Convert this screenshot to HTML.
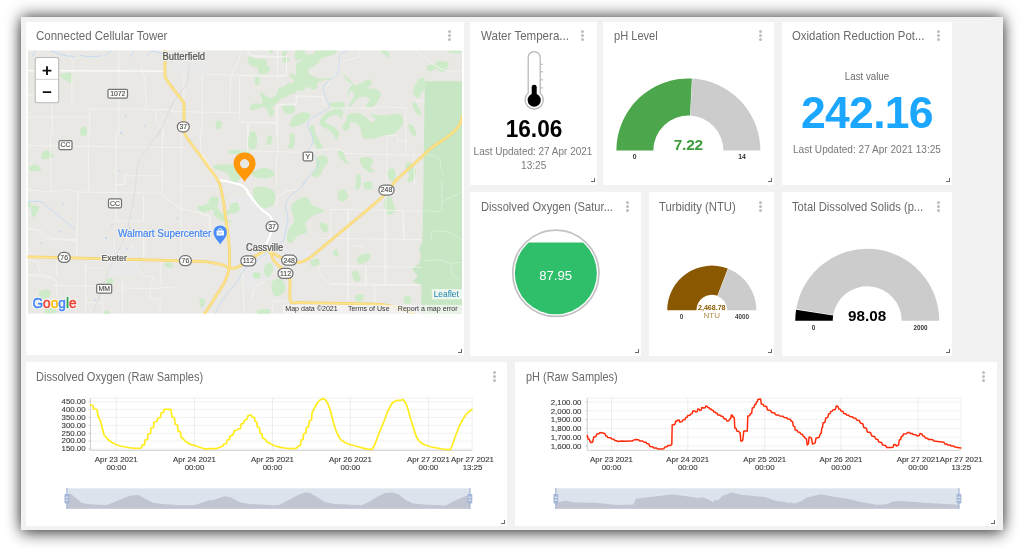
<!DOCTYPE html>
<html lang="en">
<head>
<meta charset="utf-8">
<title>Water Quality Dashboard</title>
<style>
*{box-sizing:border-box}
html,body{margin:0;padding:0}
body{width:1024px;height:549px;background:#fff;position:relative;overflow:hidden;font-family:"Liberation Sans",Arial,sans-serif;}
#shadow{position:absolute;left:0;top:0;width:1024px;height:549px;}
#frame{position:absolute;left:21.1px;top:17px;width:981.8px;height:512.9px;background:#f2f2f2;}
.card{position:absolute;background:#fff;}
.title{position:absolute;left:10.9px;top:7.7px;font-size:12.6px;line-height:14px;color:#6a6a6a;white-space:nowrap;margin:0;font-weight:400;transform-origin:0 50%;}
.kebab{position:absolute;top:8.5px;width:3px;height:11px;}
.kebab i{display:block;width:3px;height:3px;border-radius:50%;background:#bdbdbd;margin:0 0 1px 0}
.grip{position:absolute;right:2.1px;bottom:2.4px;width:4px;height:4px;border-right:1.3px solid #6a6a6a;border-bottom:1.3px solid #6a6a6a;}
svg{position:absolute;left:0;top:0;overflow:visible}

</style>
</head>
<body>
<svg id="shadow" width="1024" height="549" viewBox="0 0 1024 549" aria-hidden="true">
<defs><filter id="shblur" x="-10%" y="-10%" width="120%" height="120%"><feGaussianBlur stdDeviation="7.2 8.5"/></filter></defs>
<rect x="21.1" y="18" width="981.8" height="513" fill="#000" fill-opacity="0.95" filter="url(#shblur)"/>
</svg>
<div id="frame"></div>
<section class="card" id="map" style="left:26.0px;top:21.5px;width:437.60px;height:333.50px">
<h3 class="title" style="left:10.30px;transform:scaleX(0.9129)">Connected Cellular Tower</h3>
<span class="kebab" style="left:422.40px;top:8.50px"><i></i><i></i><i></i></span>
<svg width="437.60" height="333.50" viewBox="26.0 21.5 437.60 333.50">
<defs><clipPath id="mapclip"><rect x="27.6" y="49.8" width="434.4" height="263.4"/></clipPath></defs>
<g clip-path="url(#mapclip)">
<rect x="27.6" y="49.8" width="434.4" height="263.4" fill="#e9e8e4"/>
<path d="M232.7,195.1C236.9,192.2 249.4,197.2 257.8,200.1C266.2,203.0 278.3,207.7 283.0,212.7C287.6,217.7 285.5,224.8 285.5,230.3C285.5,235.7 279.6,242.4 283.0,245.4C286.3,248.3 301.0,246.2 305.6,247.9C310.2,249.5 312.3,252.9 310.6,255.4C308.9,257.9 300.1,261.7 295.5,263.0C290.9,264.2 287.1,260.9 283.0,263.0C278.8,265.1 274.2,272.6 270.4,275.5C266.6,278.5 263.7,278.0 260.3,280.6C257.0,283.1 253.0,289.8 250.3,290.6C247.6,291.4 245.2,289.4 244.0,285.6C242.7,281.8 245.0,270.9 242.7,268.0C240.4,265.1 232.3,272.2 230.2,268.0C228.1,263.8 229.7,251.2 230.2,242.8C230.6,234.5 232.3,225.7 232.7,217.7C233.1,209.7 228.5,198.0 232.7,195.1Z" fill="#e9e9ea"/>
<path d="M173.5,60.0L206.0,60.0L206.0,73.0L173.5,73.0Z" fill="#e9e9ea"/>
<path d="M106.0,247.3L138.8,247.3L138.8,275.2L109.2,275.2L106.8,261.2L86.3,260.4L86.3,254.7L106.0,254.2Z" fill="#e9e9ea"/>
<path d="M424.8,80.7L463.0,80.7L462.0,180.0L462.0,313.2L421.0,313.2L421.8,285.6L413.0,280.6L418.0,275.5L411.7,268.0L419.2,263.0L421.0,255.4L419.2,247.9L422.5,241.6L423.0,210.2L423.5,180.0Z" fill="#c7e6c3"/>
<g fill="#cdebc9">
<path d="M282.7,105.8C283.6,105.0 287.2,104.2 289.0,104.3C290.8,104.4 294.0,105.2 294.8,106.3C295.6,107.5 295.1,110.8 294.0,111.9C293.0,112.9 289.4,113.6 287.8,113.4C286.1,113.1 284.0,111.2 283.2,110.1C282.5,109.0 281.9,106.7 282.7,105.8Z"/>
<path d="M294.0,115.1C295.7,114.1 300.4,112.1 302.8,111.9C305.3,111.7 309.9,112.4 310.4,113.9C310.8,115.3 307.4,119.9 305.9,121.4C304.4,122.9 302.1,123.2 300.3,123.9C298.6,124.7 295.6,126.4 294.0,126.4C292.5,126.5 290.2,125.6 289.8,124.4C289.4,123.3 290.9,120.3 291.5,118.9C292.2,117.5 292.4,116.2 294.0,115.1Z"/>
<path d="M343.1,73.7C343.6,73.7 348.7,78.2 350.6,79.9C352.5,81.6 353.8,84.8 355.6,85.0C357.5,85.2 361.1,82.1 363.2,81.2C365.3,80.3 368.1,78.5 369.5,78.7C370.8,78.9 372.2,81.1 372.0,82.5C371.8,83.8 367.5,86.5 368.2,87.5C369.0,88.4 375.1,87.8 377.0,88.7C378.9,89.7 380.6,92.1 380.8,93.8C381.0,95.5 379.4,98.2 378.3,100.0C377.1,101.9 375.1,105.5 373.2,106.3C371.3,107.2 366.3,106.8 365.7,105.8C365.1,104.9 369.5,101.5 369.5,100.0C369.5,98.6 367.4,96.7 365.7,96.3C364.0,95.9 360.0,96.4 358.1,97.5C356.3,98.7 354.6,102.5 353.1,103.8C351.6,105.1 348.3,106.9 348.1,106.3C347.9,105.8 350.9,101.9 351.9,100.0C352.8,98.2 354.6,95.3 354.4,93.8C354.2,92.3 351.6,89.4 350.6,90.0C349.7,90.6 348.4,97.7 348.1,97.5C347.8,97.3 348.0,90.8 348.6,88.7C349.2,86.7 352.1,85.0 351.9,83.7C351.6,82.4 348.2,81.4 346.8,79.9C345.5,78.4 342.5,73.7 343.1,73.7Z"/>
<path d="M330.5,102.6C332.2,101.7 341.0,101.1 343.1,101.8C345.1,102.6 344.9,106.3 344.3,107.6C343.8,108.8 341.2,110.1 339.3,110.1C337.4,110.1 333.1,108.7 331.8,107.6C330.4,106.5 328.8,103.4 330.5,102.6Z"/>
<path d="M320.4,118.9C321.6,116.8 325.3,112.9 328.0,111.4C330.6,109.9 335.8,108.8 338.0,108.8C340.3,108.8 342.7,110.0 343.1,111.4C343.4,112.7 341.5,117.3 340.6,117.6C339.6,118.0 338.5,114.1 336.8,113.9C335.1,113.7 330.9,115.3 329.2,116.4C327.5,117.5 324.7,119.9 325.5,121.4C326.2,122.9 332.2,124.7 334.3,126.4C336.3,128.1 338.9,130.8 339.3,132.7C339.7,134.6 337.7,138.8 336.8,139.0C335.8,139.2 334.3,135.5 333.0,134.0C331.7,132.5 329.9,130.3 328.0,129.0C326.1,127.6 321.6,126.7 320.4,125.2C319.3,123.7 319.3,121.0 320.4,118.9Z"/>
<path d="M345.6,121.4C346.5,119.5 346.2,115.2 348.1,113.9C350.0,112.6 355.5,112.2 358.1,112.6C360.8,113.0 363.8,115.1 365.7,116.4C367.6,117.7 369.2,121.0 370.7,121.4C372.2,121.8 375.7,120.0 375.7,118.9C375.7,117.8 369.6,114.4 370.7,113.9C371.9,113.3 379.9,115.2 383.3,115.1C386.7,115.1 390.7,113.6 393.3,113.4C396.0,113.2 399.4,112.7 400.9,113.9C402.4,115.1 403.6,119.3 403.4,121.4C403.2,123.5 400.9,126.0 399.6,127.7C398.3,129.4 397.1,131.6 394.6,132.7C392.1,133.9 386.5,134.5 383.3,135.2C380.1,136.0 376.2,137.4 373.2,137.8C370.2,138.1 365.1,139.1 363.2,137.8C361.3,136.4 361.4,131.0 360.7,129.0C359.9,126.9 359.7,125.1 358.1,123.9C356.6,122.8 351.9,120.8 350.6,121.4C349.3,122.0 350.1,126.4 349.4,127.7C348.6,129.0 346.7,130.4 345.6,130.2C344.4,130.0 341.8,127.8 341.8,126.4C341.8,125.1 344.6,123.3 345.6,121.4Z"/>
<path d="M309.9,125.9C310.3,124.6 313.3,124.2 314.2,125.2C315.0,126.2 314.7,130.5 315.4,132.7C316.2,135.0 318.1,138.2 319.2,140.3C320.3,142.3 323.1,145.2 323.0,146.6C322.8,147.9 319.2,149.6 317.9,149.1C316.6,148.5 315.1,145.0 314.2,142.8C313.2,140.5 312.3,136.5 311.6,134.0C311.0,131.5 309.5,127.3 309.9,125.9Z"/>
<path d="M249.6,132.7C250.5,130.8 253.4,130.4 254.6,131.0C255.7,131.5 256.8,134.2 257.1,136.5C257.4,138.8 257.2,144.7 256.3,146.6C255.5,148.4 252.6,149.4 251.3,149.1C250.1,148.7 248.3,146.5 248.0,144.0C247.8,141.6 248.6,134.7 249.6,132.7Z"/>
<path d="M267.7,135.2C268.4,134.1 271.7,134.7 272.2,136.0C272.6,137.3 271.4,142.9 270.7,144.0C269.9,145.2 267.6,144.9 267.1,143.5C266.7,142.2 266.9,136.4 267.7,135.2Z"/>
<path d="M289.0,134.0C289.6,132.8 293.2,132.3 294.0,133.5C294.9,134.6 295.0,139.4 294.8,141.5C294.6,143.7 293.9,147.1 292.8,147.8C291.7,148.6 287.6,147.5 287.3,146.6C286.9,145.6 290.0,143.4 290.3,141.5C290.5,139.6 288.5,135.2 289.0,134.0Z"/>
<path d="M413.5,88.7C414.3,86.7 416.8,80.3 418.5,78.7C420.2,77.1 423.8,76.7 424.8,78.2C425.7,79.7 425.3,86.6 424.8,88.7C424.2,90.9 421.7,91.2 421.0,92.5C420.2,93.8 420.5,97.0 419.7,97.5C419.0,98.1 417.0,97.0 416.0,96.3C414.9,95.5 413.3,93.6 413.0,92.5C412.6,91.4 412.6,90.8 413.5,88.7Z"/>
<path d="M412.2,101.8C412.6,101.2 414.8,102.3 416.0,103.3C417.1,104.4 419.0,107.1 419.7,108.8C420.5,110.6 421.4,114.4 421.0,115.1C420.6,115.9 418.4,115.0 417.2,113.9C416.1,112.7 414.2,109.4 413.5,107.6C412.7,105.8 411.8,102.4 412.2,101.8Z"/>
<path d="M408.4,123.9C408.7,122.8 411.8,123.9 413.0,125.2C414.1,126.5 415.7,131.1 416.0,132.7C416.2,134.3 415.5,136.0 414.7,136.0C414.0,136.0 411.9,134.5 410.9,132.7C410.0,130.9 408.1,125.1 408.4,123.9Z"/>
<path d="M427.3,64.9C428.4,64.1 433.1,64.4 434.8,63.6C436.5,62.8 437.3,60.2 438.6,59.8C439.9,59.4 442.1,60.7 443.6,61.1C445.1,61.5 448.3,61.0 448.6,62.3C449.0,63.7 447.3,68.6 446.1,69.9C445.0,71.2 442.6,71.3 441.1,71.1C439.6,70.9 437.6,68.6 436.1,68.6C434.6,68.6 432.4,71.1 431.1,71.1C429.7,71.1 427.8,69.6 427.3,68.6C426.7,67.7 426.1,65.6 427.3,64.9Z"/>
<path d="M446.1,50.5C447.3,50.1 459.0,50.3 461.2,50.5C463.5,50.8 462.3,51.9 461.2,52.3C460.1,52.7 455.9,53.3 453.7,53.0C451.4,52.8 445.0,50.9 446.1,50.5Z"/>
<path d="M380.8,50.5C381.0,49.9 385.6,49.5 387.1,50.5C388.5,51.5 390.5,56.7 390.3,57.3C390.1,58.0 387.2,55.8 385.8,54.8C384.4,53.8 380.6,51.2 380.8,50.5Z"/>
<path d="M338.0,150.3C338.6,149.6 341.9,150.4 343.1,151.6C344.2,152.7 344.6,156.1 345.6,157.9C346.5,159.7 349.5,163.1 349.4,163.6C349.2,164.2 345.8,162.7 344.3,161.6C342.8,160.6 340.2,158.3 339.3,156.6C338.4,154.9 337.5,151.1 338.0,150.3Z"/>
<path d="M360.2,157.9C361.3,156.9 366.2,156.2 368.2,156.6C370.2,157.0 372.9,158.9 373.2,160.4C373.6,161.9 370.5,165.2 370.7,166.7C370.9,168.2 374.7,169.7 374.5,170.4C374.3,171.2 371.0,172.1 369.5,171.7C368.0,171.3 365.8,169.2 364.4,167.9C363.1,166.6 361.3,164.4 360.7,162.9C360.0,161.4 359.0,158.8 360.2,157.9Z"/>
<path d="M317.4,156.6C318.9,154.7 323.9,154.6 325.5,155.4C327.1,156.1 328.2,159.9 328.0,161.6C327.8,163.3 325.3,164.8 324.2,166.7C323.1,168.5 321.8,172.7 320.4,174.2C319.1,175.7 316.7,176.7 315.4,176.7C314.1,176.7 311.6,175.5 311.6,174.2C311.6,172.9 314.5,170.6 315.4,167.9C316.3,165.3 315.9,158.5 317.4,156.6Z"/>
<path d="M388.3,169.2C389.3,168.2 392.2,167.2 393.3,167.9C394.5,168.7 395.8,172.3 395.9,174.2C395.9,176.1 394.8,179.7 393.8,180.5C392.9,181.2 390.6,180.2 389.6,179.2C388.6,178.3 387.2,175.7 387.1,174.2C386.9,172.7 387.4,170.1 388.3,169.2Z"/>
<path d="M405.9,162.9C406.7,161.8 409.4,161.2 410.9,162.1C412.4,163.1 415.4,167.0 416.0,169.2C416.5,171.4 415.5,174.8 414.7,176.7C414.0,178.6 412.1,181.2 410.9,181.7C409.8,182.3 407.5,181.8 407.2,180.5C406.9,179.2 409.1,174.6 408.9,172.9C408.7,171.3 406.4,170.7 405.9,169.2C405.5,167.7 405.2,163.9 405.9,162.9Z"/>
<path d="M257.6,169.2C259.7,168.3 262.9,167.0 265.1,167.2C267.4,167.4 271.4,169.2 272.7,170.4C274.0,171.7 275.1,174.3 273.9,175.5C272.8,176.6 268.0,177.8 265.1,178.0C262.3,178.2 257.2,177.5 255.1,176.7C253.0,176.0 250.9,174.1 251.3,172.9C251.7,171.8 255.5,170.0 257.6,169.2Z"/>
<path d="M356.9,174.2C357.6,172.9 360.2,174.0 360.7,175.5C361.2,176.9 360.8,182.7 360.2,184.0C359.5,185.3 356.6,185.5 356.1,184.0C355.6,182.5 356.2,175.5 356.9,174.2Z"/>
<path d="M295.6,50.2C297.0,48.7 303.2,49.7 304.7,50.2C306.2,50.7 303.9,53.1 305.4,53.7C306.8,54.2 313.0,54.4 314.6,53.9C316.1,53.4 312.1,50.7 315.4,50.2C318.7,49.6 334.1,49.5 336.7,50.2C339.2,50.8 333.9,53.7 332.3,54.6C330.6,55.5 327.5,55.5 325.7,56.2C323.9,56.9 321.2,58.0 320.2,58.9C319.3,59.8 320.0,61.4 319.2,62.2C318.3,63.0 315.8,63.7 314.8,64.4C313.8,65.1 313.5,66.7 312.6,67.1C311.7,67.6 309.3,66.9 308.8,67.7C308.2,68.5 308.3,71.6 308.8,72.6C309.2,73.7 310.3,74.1 311.5,74.8C312.7,75.5 315.2,77.0 317.0,77.5C318.8,78.0 321.2,78.1 323.5,78.1C325.8,78.1 331.3,77.4 332.3,77.5C333.3,77.7 331.7,78.8 330.1,79.2C328.5,79.6 323.3,79.7 321.3,80.3C319.4,80.9 317.5,82.1 317.0,83.0C316.4,83.9 317.8,85.4 317.5,86.3C317.2,87.2 315.7,88.7 314.8,89.0C313.9,89.4 312.1,88.9 311.5,88.5C310.8,88.1 311.4,86.3 310.4,86.3C309.4,86.3 306.1,87.8 304.9,88.5C303.8,89.1 303.7,90.4 302.7,90.7C301.8,90.9 299.7,89.8 298.4,90.1C297.1,90.5 295.3,92.3 294.0,92.9C292.7,93.4 290.6,93.5 289.6,94.0C288.6,94.4 288.4,95.6 287.4,96.1C286.4,96.6 284.2,96.7 283.0,97.2C281.9,97.7 280.6,98.6 279.8,99.4C278.9,100.2 278.6,101.7 277.6,102.7C276.5,103.7 273.2,104.8 272.7,106.3C272.1,107.8 274.2,111.0 273.9,112.6C273.5,114.1 271.2,116.6 270.2,116.4C269.3,116.1 268.7,112.4 267.7,110.9C266.8,109.4 265.4,106.6 263.9,106.3C262.4,106.0 259.6,108.4 257.6,108.8C255.5,109.3 250.9,110.0 250.0,109.3C249.1,108.5 250.3,104.8 251.3,103.8C252.3,102.8 255.3,102.7 256.8,102.7C258.3,102.7 260.3,104.3 261.2,103.8C262.0,103.3 262.4,101.2 262.3,99.4C262.1,97.6 259.9,92.7 260.1,91.8C260.2,90.8 262.0,92.0 263.4,92.9C264.7,93.7 267.2,96.7 268.8,97.2C270.5,97.7 273.0,97.0 274.3,96.1C275.6,95.3 276.9,93.1 277.6,91.8C278.2,90.5 277.7,88.2 278.7,87.4C279.7,86.6 282.8,86.9 284.1,86.3C285.5,85.6 286.1,83.6 287.4,83.0C288.7,82.4 291.9,83.0 292.9,82.5C293.9,82.0 294.3,80.5 294.0,79.7C293.7,78.9 291.4,77.8 290.7,77.0C290.0,76.2 289.4,74.8 289.6,74.3C289.8,73.7 290.8,73.1 291.8,73.2C292.8,73.2 295.5,75.6 296.2,74.8C296.8,74.0 296.3,69.1 296.2,67.7C296.1,66.3 295.5,66.3 295.6,65.5C295.8,64.7 296.4,63.0 297.3,62.2C298.2,61.4 300.8,60.6 301.6,60.0C302.5,59.5 303.1,58.6 302.7,58.4C302.4,58.2 300.5,58.7 299.5,58.9C298.4,59.2 296.2,61.3 295.6,60.0C295.1,58.7 294.3,51.7 295.6,50.2Z"/>
<path d="M282.5,51.3C283.2,50.2 287.0,49.9 287.4,50.4C287.8,50.9 285.5,53.6 285.2,54.6C285.0,55.5 285.1,56.2 285.8,56.8C286.4,57.3 289.4,57.7 289.6,58.4C289.9,59.1 288.2,61.1 287.4,61.7C286.6,62.3 284.9,62.8 284.1,62.2C283.4,61.6 282.7,59.5 282.5,57.8C282.3,56.2 281.8,52.4 282.5,51.3Z"/>
<path d="M268.8,50.2C269.2,49.8 273.3,49.8 273.7,50.2C274.2,50.6 272.3,52.9 271.6,52.9C270.8,52.9 268.5,50.6 268.8,50.2Z"/>
<path d="M248.0,56.2C248.6,55.4 250.9,56.3 252.4,56.8C253.9,57.2 256.2,58.7 257.9,58.9C259.5,59.2 262.0,58.2 263.4,58.4C264.7,58.6 266.0,59.0 266.6,60.0C267.3,61.1 267.2,64.3 267.7,65.5C268.3,66.7 270.6,67.2 270.5,68.2C270.3,69.3 267.9,71.8 266.6,72.6C265.4,73.4 263.5,73.8 262.3,73.7C261.0,73.6 259.1,73.1 258.4,72.1C257.8,71.1 258.8,68.0 257.9,67.1C257.0,66.2 253.8,66.8 252.4,66.1C251.0,65.3 249.2,63.7 248.6,62.2C247.9,60.7 247.5,57.0 248.0,56.2Z"/>
<path d="M255.5,76.2C256.1,75.1 258.6,75.5 259.2,76.7C259.8,77.8 259.8,83.0 259.2,84.1C258.6,85.2 255.7,85.3 255.1,84.1C254.6,82.9 254.9,77.3 255.5,76.2Z"/>
<path d="M80.6,130.0C81.4,129.2 86.0,129.3 86.8,130.0C87.7,130.7 87.2,133.8 86.3,134.5C85.5,135.3 82.2,135.7 81.3,135.0C80.4,134.3 79.7,130.8 80.6,130.0Z"/>
<path d="M42.9,151.4C43.8,150.2 46.2,149.5 47.9,150.1C49.6,150.7 54.0,153.9 54.2,155.1C54.4,156.3 51.0,157.7 49.1,158.2C47.3,158.6 42.5,159.2 41.6,158.2C40.7,157.1 41.9,152.6 42.9,151.4Z"/>
<path d="M29.0,166.5C29.8,165.4 34.8,163.4 36.6,163.9C38.4,164.4 41.8,168.7 41.1,169.7C40.3,170.7 33.4,171.2 31.5,170.7C29.7,170.2 28.3,167.5 29.0,166.5Z"/>
<path d="M27.8,201.6C28.1,200.9 31.4,202.0 31.5,202.9C31.7,203.8 29.6,208.1 29.0,207.9C28.5,207.7 27.4,202.4 27.8,201.6Z"/>
<path d="M31.5,205.4C32.7,204.5 38.7,205.0 39.1,206.7C39.5,208.4 35.2,215.8 34.1,216.7C32.9,217.7 31.9,214.7 31.5,213.0C31.2,211.3 30.4,206.4 31.5,205.4Z"/>
<path d="M197.5,206.7C198.0,205.4 205.4,204.4 207.5,202.9C209.6,201.4 209.6,197.4 211.3,196.6C213.0,195.8 217.9,196.1 218.8,197.4C219.8,198.7 217.0,203.1 217.6,205.4C218.1,207.8 220.7,212.6 222.6,213.0C224.5,213.3 227.9,209.4 230.1,207.9C232.4,206.4 237.1,202.5 237.7,202.9C238.2,203.3 235.8,208.4 233.9,210.4C232.0,212.5 225.3,215.0 225.1,216.7C224.9,218.4 233.0,221.2 232.6,221.8C232.3,222.3 225.2,221.4 222.6,220.5C220.0,219.6 216.6,217.2 215.1,215.5C213.5,213.8 214.2,209.8 212.5,209.2C210.8,208.6 206.0,212.1 203.7,211.7C201.5,211.3 196.9,208.0 197.5,206.7Z"/>
<path d="M166.0,262.7C167.1,262.4 171.6,262.6 172.3,263.2C173.1,263.9 172.1,266.6 171.1,267.0C170.0,267.4 166.0,266.4 165.3,265.7C164.5,265.1 165.0,263.1 166.0,262.7Z"/>
<path d="M254.0,187.5C255.5,186.2 260.0,185.9 262.8,186.3C265.7,186.7 271.0,188.4 272.9,190.1C274.8,191.8 275.4,195.3 275.4,197.6C275.4,199.9 274.4,203.6 272.9,205.1C271.4,206.6 267.8,207.8 265.4,207.7C262.9,207.5 258.4,205.8 256.6,203.9C254.8,202.0 253.7,197.5 253.3,195.1C252.9,192.6 252.6,188.9 254.0,187.5Z"/>
<path d="M293.0,202.6C295.1,200.6 302.6,196.0 305.6,196.3C308.6,196.7 310.3,203.1 313.1,205.1C316.0,207.2 324.4,208.7 324.4,210.2C324.4,211.7 316.0,213.3 313.1,215.2C310.3,217.1 306.5,220.3 305.6,222.7C304.6,225.2 308.0,229.6 306.8,231.5C305.7,233.4 300.5,233.6 298.0,235.3C295.6,237.0 292.2,242.5 290.5,242.8C288.8,243.2 286.9,240.1 286.7,237.8C286.5,235.6 288.1,230.4 289.2,227.8C290.4,225.1 293.9,222.9 294.3,220.2C294.6,217.6 291.9,212.8 291.8,210.2C291.6,207.5 290.9,204.7 293.0,202.6Z"/>
<path d="M230.2,203.9C231.1,202.4 236.4,201.7 237.7,202.6C239.0,203.6 239.9,208.7 239.0,210.2C238.0,211.7 232.7,213.6 231.4,212.7C230.1,211.7 229.2,205.4 230.2,203.9Z"/>
<path d="M337.8,191.3C338.4,189.8 341.7,188.2 343.3,188.8C344.9,189.4 348.3,193.2 348.3,195.1C348.3,197.0 344.7,200.8 343.3,201.4C341.9,201.9 339.6,200.4 338.8,198.9C337.9,197.3 337.1,192.8 337.8,191.3Z"/>
<path d="M355.9,181.3C356.6,179.9 360.3,179.1 360.9,180.0C361.5,180.9 360.4,186.2 359.6,187.5C358.9,188.9 356.4,189.7 355.9,188.8C355.3,187.9 355.1,182.6 355.9,181.3Z"/>
<path d="M363.4,182.5C364.2,181.4 369.6,180.5 370.9,181.3C372.3,182.0 373.0,186.4 372.2,187.5C371.4,188.7 367.2,189.6 365.9,188.8C364.6,188.0 362.6,183.6 363.4,182.5Z"/>
<path d="M384.8,198.9C385.7,197.2 389.7,195.6 391.1,196.3C392.4,197.1 392.8,201.8 393.6,203.9C394.3,206.0 396.8,208.7 396.1,210.2C395.3,211.7 390.2,214.3 388.5,213.9C386.8,213.6 385.3,209.9 384.8,207.7C384.2,205.4 383.8,200.6 384.8,198.9Z"/>
<path d="M319.4,222.7C320.0,221.6 325.6,222.9 326.9,224.0C328.3,225.1 328.8,229.1 328.2,230.3C327.6,231.4 324.5,232.7 323.2,231.5C321.9,230.4 318.8,223.9 319.4,222.7Z"/>
<path d="M358.4,255.4C359.9,254.1 365.3,252.7 367.2,252.9C369.1,253.1 371.5,255.2 370.9,256.7C370.4,258.2 365.5,262.2 363.4,263.0C361.3,263.7 357.9,262.8 357.1,261.7C356.4,260.6 356.9,256.7 358.4,255.4Z"/>
<path d="M310.6,260.4C311.6,259.3 316.8,257.4 318.1,257.9C319.5,258.5 320.3,263.1 319.4,264.2C318.5,265.3 313.2,266.0 311.9,265.5C310.5,264.9 309.7,261.6 310.6,260.4Z"/>
<path d="M333.2,250.4C333.6,249.4 336.2,248.4 337.0,249.1C337.8,249.9 338.6,254.5 338.3,255.4C337.9,256.4 335.2,256.2 334.5,255.4C333.7,254.7 332.9,251.3 333.2,250.4Z"/>
<path d="M352.1,271.8C352.5,270.2 355.8,269.4 357.1,270.5C358.4,271.6 361.3,277.8 360.9,279.3C360.5,280.8 355.9,281.7 354.6,280.6C353.3,279.4 351.7,273.3 352.1,271.8Z"/>
<path d="M265.4,264.2C266.5,262.9 270.5,262.0 271.6,263.0C272.8,263.9 273.5,268.4 272.9,270.5C272.3,272.6 269.2,276.6 267.9,276.8C266.6,277.0 264.5,273.6 264.1,271.8C263.7,269.9 264.2,265.5 265.4,264.2Z"/>
<path d="M272.9,280.6C274.2,279.0 278.6,277.3 280.4,278.0C282.3,278.8 285.1,283.3 285.5,285.6C285.8,287.8 284.5,291.6 283.0,293.1C281.4,294.6 277.1,296.4 275.4,295.6C273.7,294.9 272.0,290.4 271.6,288.1C271.3,285.8 271.6,282.1 272.9,280.6Z"/>
<path d="M254.0,271.8C255.1,271.1 259.6,272.1 260.3,273.0C261.1,274.0 260.1,277.4 259.1,278.0C258.0,278.7 254.0,278.5 253.3,277.5C252.5,276.6 253.0,272.4 254.0,271.8Z"/>
<path d="M355.9,294.4C357.0,293.5 362.5,293.4 363.4,294.4C364.3,295.3 363.3,299.8 362.1,300.7C361.0,301.5 356.8,301.1 355.9,300.2C354.9,299.2 354.7,295.2 355.9,294.4Z"/>
<path d="M404.9,295.6C405.9,294.9 410.4,295.8 411.2,296.9C411.9,298.0 411.0,302.4 409.9,303.2C408.8,303.9 404.9,303.1 404.1,301.9C403.4,300.8 403.8,296.4 404.9,295.6Z"/>
<path d="M257.8,309.5C259.5,308.8 267.4,308.1 269.1,308.7C270.8,309.3 270.8,312.6 269.1,313.2C267.4,313.9 259.5,313.8 257.8,313.2C256.1,312.7 256.1,310.1 257.8,309.5Z"/>
<path d="M200.0,298.1C200.8,297.2 204.5,298.3 205.0,299.4C205.6,300.5 204.5,304.7 203.8,305.7C203.0,306.6 200.6,306.8 200.0,305.7C199.4,304.6 199.2,299.1 200.0,298.1Z"/>
<path d="M213.5,165.6C214.6,164.9 219.0,163.9 221.9,163.8C224.9,163.6 230.6,164.1 233.2,164.7C235.7,165.3 237.7,166.0 238.8,167.5C239.9,169.1 241.0,172.9 240.7,175.0C240.4,177.1 238.3,180.8 236.9,181.6C235.5,182.4 232.7,181.9 231.3,180.7C229.9,179.4 229.2,174.7 227.5,173.2C225.9,171.6 222.0,171.0 220.0,170.3C218.1,169.6 215.4,169.2 214.4,168.5C213.4,167.8 212.3,166.4 213.5,165.6Z"/>
<path d="M230.4,149.7C232.9,149.1 245.5,149.1 248.2,149.7C250.9,150.3 250.8,152.9 248.2,153.5C245.6,154.0 233.6,154.0 230.9,153.5C228.2,152.9 227.8,150.3 230.4,149.7Z"/>
<path d="M39.2,291.4C39.6,290.6 41.7,290.2 42.9,289.9C44.2,289.7 46.5,289.1 47.7,289.5C48.8,289.8 50.2,291.5 50.5,292.3C50.8,293.2 50.3,294.9 49.6,295.2C48.9,295.4 46.8,294.0 45.8,294.2C44.8,294.4 43.9,296.4 42.9,296.6C42.0,296.7 40.2,295.9 39.6,295.2C39.1,294.4 38.7,292.1 39.2,291.4Z"/>
<path d="M45.8,307.9C46.6,307.2 50.0,307.4 51.5,307.5C52.9,307.5 54.6,307.7 55.2,308.4C55.9,309.1 57.1,311.6 55.7,312.2C54.3,312.8 47.3,313.3 45.8,312.7C44.3,312.0 44.9,308.7 45.8,307.9Z"/>
<path d="M106.4,280.0C107.2,279.5 112.1,279.6 113.0,280.0C113.9,280.4 113.4,282.3 112.5,282.8C111.7,283.3 108.3,283.7 107.3,283.3C106.4,282.9 105.5,280.5 106.4,280.0Z"/>
<path d="M104.5,310.8C105.1,310.3 108.0,309.8 108.8,310.1C109.5,310.5 109.9,312.7 109.2,313.1C108.6,313.6 105.2,313.5 104.5,313.1C103.8,312.8 103.9,311.2 104.5,310.8Z"/>
<path d="M60.4,73.9C61.8,73.3 69.8,71.8 71.5,73.0C73.3,74.3 72.6,81.2 71.9,82.4C71.2,83.5 68.4,81.5 67.0,80.8C65.5,80.0 63.0,78.2 62.0,77.1C61.0,76.1 59.0,74.5 60.4,73.9Z"/>
<path d="M81.0,127.1C81.7,126.4 84.1,126.0 85.0,126.3C85.9,126.7 86.9,128.4 87.1,129.6C87.3,130.8 87.0,133.7 86.3,134.5C85.6,135.4 83.1,135.8 82.2,135.3C81.3,134.9 80.7,132.5 80.6,131.2C80.4,130.0 80.4,127.9 81.0,127.1Z"/>
<path d="M216.4,120.6C217.2,119.7 220.3,120.5 221.1,121.1C222.0,121.6 222.1,123.2 221.8,124.4C221.5,125.5 220.1,128.4 219.2,128.8C218.3,129.2 216.3,128.4 215.9,127.1C215.5,125.9 215.6,121.5 216.4,120.6Z"/>
<path d="M39.6,293.2C40.1,291.7 43.7,289.4 45.3,289.1C46.9,288.9 49.7,290.5 50.2,291.6C50.7,292.7 49.8,295.4 48.6,296.5C47.4,297.6 43.4,299.4 42.0,299.0C40.7,298.5 39.1,294.7 39.6,293.2Z"/>
<path d="M106.8,278.5C107.6,277.7 111.7,277.4 112.5,278.1C113.4,278.9 113.4,282.6 112.5,283.4C111.7,284.2 107.6,284.1 106.8,283.4C105.9,282.6 105.9,279.2 106.8,278.5Z"/>
<path d="M165.8,262.1C166.5,261.6 170.6,262.1 171.5,262.9C172.5,263.6 173.1,266.5 172.4,267.0C171.6,267.5 167.6,266.9 166.6,266.2C165.6,265.4 165.1,262.6 165.8,262.1Z"/>
<path d="M105.1,310.4C105.8,310.0 108.8,310.4 109.2,310.9C109.7,311.4 109.0,313.3 108.4,313.7C107.8,314.1 105.6,314.2 105.1,313.7C104.7,313.2 104.5,310.8 105.1,310.4Z"/>
</g>
<g fill="none" stroke="#f4f3f0" stroke-width="0.9" stroke-linejoin="round">
<path d="M118.8,50.1L118.8,136.0M89.6,108.3L174.0,109.1M89.6,108.3L89.6,136.0M27.6,116.5L89.6,116.8M67.0,50.1L70.7,57.5L73.2,63.2L73.2,70.6M71.9,73.9L71.9,105.0M51.9,102.6L52.7,136.0M141.2,65.7L145.3,81.2L146.1,109.1M155.1,109.1L156.8,121.4L163.3,128.0L163.3,136.0M27.6,95.2L35.5,95.2M27.8,145.1L184.9,147.1M50.4,130.0L51.1,191.6M88.1,130.0L88.9,191.6M115.8,130.0L115.8,220.5M27.8,189.1L49.1,191.6L69.2,189.1L78.0,191.6L161.0,192.8M78.0,191.6L76.8,255.7M124.6,175.2L162.3,175.2M162.3,130.0L162.3,195.4L179.9,207.9L207.5,214.2M181.1,130.0L181.1,260.7M115.8,184.0L124.6,184.0L124.6,175.2M143.4,194.1L143.4,220.5L115.8,220.5M200.0,130.0L201.2,153.9M27.8,228.0L39.1,229.3L51.7,238.1L76.8,240.6M143.4,230.6L143.4,258.2M181.1,185.3L220.1,185.8M208.8,214.2L209.5,235.6M242.7,184.0L254.0,205.4M240.0,74.9L277.7,75.7L286.5,73.7L286.5,56.1L277.7,56.1L277.7,50.5M277.7,56.1L250.1,54.8L247.5,50.5M277.7,102.6L277.7,156.6M240.0,121.4L276.5,122.7M296.6,96.3L323.0,96.3L324.2,106.3M277.7,104.3L296.6,103.3L296.6,96.3M240.0,150.3L277.7,151.1L300.3,151.6L315.4,149.1L340.6,148.6L345.6,152.8L385.8,154.1L424.8,154.6M330.5,107.6L370.7,107.6L380.8,106.3L405.9,107.1L405.9,154.1M387.1,135.2L387.1,184.0M387.1,135.2L397.1,135.2L397.1,140.3L405.9,141.0M276.5,156.6L276.5,184.0M358.1,50.5L360.7,56.1L340.6,61.1L336.8,71.1L323.0,91.2M413.5,154.1L414.7,184.0M416.0,50.5L426.0,58.6L436.1,66.1L448.6,71.1L462.5,69.9M416.0,100.0L424.8,101.8M247.5,122.7L247.5,150.3M330.7,208.9L386.0,209.7L421.2,210.7M330.7,208.9L330.7,237.8M348.3,208.9L348.3,300.7M386.0,195.1L386.0,285.6M320.7,237.8L421.2,239.1M318.1,265.5L421.2,266.7M318.1,265.5L320.7,275.5L330.7,283.1L421.2,284.3M365.9,266.7L365.9,284.3M374.7,284.3L374.7,303.2M403.6,210.2L404.1,239.1M200.0,213.9L210.1,215.2L211.3,230.3M242.7,270.5L244.0,312.7M272.9,300.7L290.5,300.7M272.9,300.7L272.9,312.7M251.5,298.1L255.3,285.6L265.4,280.6M275.4,205.1L277.9,195.1L288.0,190.1L300.6,188.8M353.3,245.4L363.4,245.9M384.8,210.2L384.8,284.3M402.9,210.2L403.4,237.8M347.1,210.2L347.1,300.7M330.0,284.3L420.5,285.1M374.7,285.1L374.7,304.4M365.9,266.7L365.9,284.3M206.1,73.9L230.7,74.2L239.7,75.2L286.4,75.8M202.0,73.9L202.0,136.0M230.7,74.2L229.8,111.6M239.7,75.2L239.7,121.4L276.6,122.2M170.0,110.8L201.1,111.6L238.9,112.4M240.5,50.9L238.9,59.1L233.1,70.6L232.3,74.2M248.7,50.9L252.0,55.8L276.6,56.7L281.5,57.1M277.4,50.9L277.4,75.5M286.4,62.4L286.4,75.5M296.2,95.2L320.0,96.0M296.2,95.2L296.2,104.2L276.6,104.7L276.6,136.0M248.7,122.2L248.7,136.0M183.9,73.9L183.9,101.7M27.6,227.6L37.1,229.3L45.3,238.3L76.5,239.1L76.5,226.0M76.5,239.1L76.5,255.5M27.6,249.0L33.8,255.5M27.6,258.0L37.1,261.2L40.4,273.5L27.6,274.4M40.4,273.5L53.5,277.6L56.8,281.7L56.8,294.9M27.6,275.2L51.9,276.8M56.8,275.2L56.8,258.0M53.5,285.0L96.1,285.8M85.5,262.1L85.5,312.9M85.5,267.0L102.7,267.8M122.4,280.1L122.4,312.9M122.4,287.5L160.1,288.3M102.7,294.9L102.7,312.9M85.5,302.2L102.7,302.7M138.8,268.6L142.0,275.2L153.5,276.8L150.2,286.7M160.9,260.4L160.9,286.7L174.0,287.5M150.2,286.7L150.2,298.1L160.1,299.0L160.1,312.9M114.2,239.1L114.2,247.3M145.3,239.1L145.3,258.8M132.2,242.4L132.2,249.0"/>
</g>
<path d="M423.5,210.2L441.9,211.4L441.9,180.0M441.9,201.4L462.0,191.3M430.6,240.3L431.8,230.3L448.1,231.5L462.0,239.1M423.5,260.4L440.6,259.2L450.7,263.0L462.0,261.7M450.7,263.0L453.2,275.5L462.0,280.6M426.2,155.0L434.4,155.3L440.0,158.8L440.6,168.1L442.5,171.2L442.8,174.3" fill="none" stroke="#d9efd6" stroke-width="0.9" stroke-linejoin="round"/>
<g fill="none" stroke="#c0d9f5" stroke-width="0.8" stroke-linecap="round">
<path d="M348.1,50.5C346.6,51.1 342.3,51.4 340.6,53.5C338.8,55.7 339.8,57.6 339.3,61.1C338.8,64.6 339.0,68.1 338.0,71.1C337.0,74.2 336.8,73.7 334.3,76.2C331.8,78.7 327.5,80.4 325.5,83.7C323.5,87.0 323.5,88.0 324.2,92.5C325.0,97.0 329.5,102.6 329.2,106.3C329.0,110.1 326.5,109.1 323.0,111.4C319.4,113.6 314.7,115.1 311.6,117.6C308.6,120.2 308.1,121.2 307.9,123.9C307.6,126.7 309.4,128.0 310.4,131.5C311.4,135.0 313.4,137.5 312.9,141.5C312.4,145.5 307.4,148.6 307.9,151.6C308.4,154.6 313.4,154.1 315.4,156.6C317.4,159.1 318.9,160.6 317.9,164.1C316.9,167.7 313.4,170.4 310.4,174.2C307.4,178.0 304.4,181.2 302.8,183.0"/>
<path d="M305.6,180.0C304.6,181.5 303.6,184.5 300.6,187.5C297.5,190.6 293.5,191.6 290.5,195.1C287.5,198.6 286.0,200.6 285.5,205.1C285.0,209.7 288.0,212.7 288.0,217.7C288.0,222.7 286.5,225.8 285.5,230.3C284.5,234.8 285.5,236.8 283.0,240.3C280.4,243.9 276.9,244.9 272.9,247.9C268.9,250.9 268.4,251.4 262.8,255.4C257.3,259.4 250.3,263.0 245.2,268.0C240.2,273.0 241.7,275.0 237.7,280.6C233.7,286.1 229.2,290.1 225.1,295.6C221.1,301.2 219.6,304.7 217.6,308.2C215.6,311.7 215.6,312.2 215.1,313.2"/>
<path d="M27.8,201.1C30.5,201.2 37.3,200.3 41.6,201.6C45.9,203.0 45.1,204.7 49.1,207.9C53.2,211.2 56.4,213.7 61.7,218.0C67.0,222.3 72.8,227.0 75.5,229.3"/>
</g>
<path d="M159.7,130.0C157.7,133.0 154.0,138.5 149.7,145.1C145.4,151.6 141.4,153.1 138.4,162.7C135.4,172.2 136.4,181.8 134.6,192.8C132.8,203.9 131.3,209.4 129.6,218.0C127.8,226.5 125.6,234.0 125.8,235.6C126.0,237.2 131.2,224.6 130.6,226.0C129.9,227.4 126.6,233.9 122.4,242.4C118.1,250.9 113.5,258.8 109.2,268.6C105.0,278.5 104.3,282.7 101.0,291.6C97.8,300.4 94.5,308.6 92.9,312.9M174.0,100.1L157.6,136.0" fill="none" stroke="#d9d9dc" stroke-width="0.8"/>
<path d="M33.0,55.8C33.2,55.2 33.4,53.6 33.8,52.6C34.3,51.5 34.9,51.0 35.1,50.6M51.0,50.4C52.2,50.9 53.7,51.6 56.8,52.6C59.9,53.5 63.0,54.7 66.6,55.3C70.2,56.0 73.2,55.7 74.8,55.8M80.6,55.0C82.4,55.2 85.5,56.1 89.6,56.2C93.7,56.2 98.8,55.5 101.0,55.3M105.1,55.8C105.6,55.2 106.5,53.5 107.6,52.6C108.8,51.6 110.2,51.2 110.9,50.9M130.6,55.8C130.9,55.2 131.5,53.5 132.2,52.6C132.9,51.6 133.8,51.2 134.2,50.9M147.0,55.0C147.4,54.5 148.1,53.0 149.4,52.2C150.7,51.4 150.7,50.7 153.5,50.9C156.3,51.1 161.4,52.9 163.3,53.4" fill="none" stroke="#b9d8f7" stroke-width="0.8" stroke-linecap="round"/>
<path d="M189.7,62.4C189.3,64.7 188.7,69.6 188.0,73.9C187.4,78.1 188.7,79.1 186.4,83.7C184.1,88.3 179.8,91.9 176.6,96.8C173.3,101.7 171.3,106.0 170.0,108.3" fill="none" stroke="#d9d9dc" stroke-width="0.8"/>
<g fill="#b3d3f6"><circle cx="60.4" cy="231.2" r="0.75"/><circle cx="106.3" cy="237.8" r="0.75"/><circle cx="41.2" cy="242.4" r="0.75"/><circle cx="127.3" cy="248.1" r="0.75"/><circle cx="95.3" cy="299.8" r="0.75"/><circle cx="125.6" cy="115.7" r="0.75"/><circle cx="144.5" cy="125.5" r="0.75"/><circle cx="121.5" cy="132.4" r="0.75"/><circle cx="130.6" cy="70.6" r="0.75"/><circle cx="63.0" cy="203.4" r="0.75"/><circle cx="60.5" cy="231.1" r="0.75"/><circle cx="105.7" cy="237.6" r="0.75"/><circle cx="112.0" cy="224.3" r="0.75"/><circle cx="177.3" cy="218.0" r="0.75"/><circle cx="119.5" cy="170.2" r="0.75"/><circle cx="120.8" cy="132.5" r="0.75"/></g>
<ellipse cx="""148.4" cy="223.5" rx="3" ry="1.4" fill="#a9cdf5"/>
<g fill="none" stroke="#ffffff" stroke-width="2" stroke-linecap="round" stroke-linejoin="round">
<path d="M202.2,155.3C203.6,157.4 206.3,161.1 209.2,165.6C212.0,170.2 212.6,174.8 216.3,177.8C220.0,180.9 222.3,179.5 227.5,181.0C232.8,182.5 238.2,182.6 242.6,185.3C246.9,188.1 248.3,194.1 249.1,194.7C249.9,195.3 246.2,188.2 246.5,188.3C246.7,188.4 247.5,191.2 250.3,195.1C253.0,198.9 256.1,203.1 260.3,207.7C264.6,212.2 269.4,213.2 271.6,217.7C273.9,222.2 272.6,225.2 271.6,230.3C270.6,235.3 268.4,238.3 266.6,242.8C264.9,247.4 263.6,250.9 262.8,252.9"/>
<path d="M27.6,70.1L165.0,70.6" stroke-width="1.35" stroke="#fcfcfa"/>
</g>
<g fill="none" stroke="#f6d270" stroke-width="2.8" stroke-linecap="round" stroke-linejoin="round">
<path d="M165.0,49.0C165.0,50.8 165.0,55.8 165.0,60.0C165.0,64.2 164.8,70.9 165.0,74.0C165.2,77.1 164.7,75.8 166.3,78.5C167.9,81.2 171.8,86.3 174.5,90.0C177.2,93.7 181.0,98.1 182.6,100.5C184.2,102.9 183.8,101.6 184.0,104.5C184.2,107.4 184.0,113.8 184.0,118.0C184.0,122.2 183.6,126.9 184.0,130.0C184.4,133.1 185.0,133.9 186.5,136.5C188.0,139.1 190.8,142.5 193.0,145.5C195.2,148.5 197.2,150.8 200.0,154.5C202.8,158.2 206.4,163.7 209.5,168.0C212.6,172.3 216.3,176.8 218.3,180.5C220.3,184.2 220.4,186.2 221.3,190.0C222.2,193.8 223.1,198.5 223.8,203.0C224.5,207.5 225.0,212.4 225.6,217.0C226.2,221.6 227.0,225.3 227.6,230.5C228.2,235.7 229.0,243.4 229.3,248.0C229.6,252.6 229.6,255.0 229.6,258.0C229.6,261.0 229.6,264.7 229.6,266.0"/>
<path d="M229.7,266.7C228.9,269.0 227.1,276.2 225.1,280.6C223.1,285.0 220.9,287.8 217.6,293.1C214.2,298.5 207.5,308.7 205.0,312.7C202.5,316.7 202.9,316.3 202.5,317.0"/>
<path d="M27.8,256.4C32.6,256.5 44.7,256.7 56.7,256.9C68.6,257.2 86.0,257.9 99.4,258.2C112.8,258.5 124.6,258.6 137.1,259.0C149.7,259.3 163.5,259.8 174.8,260.2C186.1,260.6 197.0,260.5 205.0,261.2C213.0,261.9 218.5,263.4 222.6,264.5C226.7,265.6 228.5,267.4 229.6,268.0C230.8,268.6 228.3,268.2 229.7,268.0C231.0,267.8 235.3,267.6 237.7,266.7C240.1,265.9 240.6,265.1 244.0,263.0C247.3,260.9 254.0,256.3 257.8,254.2C261.6,252.0 264.5,250.3 266.6,249.9C268.7,249.5 269.8,251.4 270.4,251.6"/>
<path d="M270.4,251.6C272.5,252.7 279.6,256.4 283.0,257.9C286.3,259.5 287.6,260.3 290.5,260.9C293.4,261.6 297.2,262.4 300.6,261.7C303.9,261.0 306.4,259.6 310.6,256.7C314.8,253.7 320.7,248.3 325.7,244.1C330.7,239.9 335.7,235.7 340.8,231.5C345.8,227.3 350.8,223.2 355.9,219.0C360.9,214.8 366.3,210.4 370.9,206.4C375.5,202.4 379.3,199.5 383.5,195.1C387.7,190.7 390.7,185.6 396.1,180.0C401.5,174.4 410.1,167.0 416.0,161.6C421.8,156.3 425.5,152.3 431.1,147.8C436.6,143.4 444.5,138.8 449.2,135.0C453.8,131.2 456.9,128.5 459.2,124.9C461.5,121.3 462.3,115.3 463.0,113.4"/>
<path d="M270.4,251.6C271.0,253.1 272.5,257.9 274.2,260.4C275.8,263.0 278.3,264.7 280.4,266.7C282.5,268.7 285.1,270.2 286.7,272.5C288.3,274.8 289.4,275.9 290.0,280.6C290.6,285.2 288.7,297.1 290.5,300.7C292.3,304.2 293.8,301.6 300.6,301.9C307.3,302.3 318.1,302.4 330.7,302.7C343.3,303.0 365.9,303.2 376.0,303.7C386.0,304.2 386.9,304.9 391.1,305.7C395.2,306.4 397.3,306.9 401.1,308.2C404.9,309.5 411.6,312.4 413.7,313.2"/>
</g>
<g fill="none" stroke="#fde58c" stroke-width="1.5" stroke-linecap="round" stroke-linejoin="round">
<path d="M165.0,49.0C165.0,50.8 165.0,55.8 165.0,60.0C165.0,64.2 164.8,70.9 165.0,74.0C165.2,77.1 164.7,75.8 166.3,78.5C167.9,81.2 171.8,86.3 174.5,90.0C177.2,93.7 181.0,98.1 182.6,100.5C184.2,102.9 183.8,101.6 184.0,104.5C184.2,107.4 184.0,113.8 184.0,118.0C184.0,122.2 183.6,126.9 184.0,130.0C184.4,133.1 185.0,133.9 186.5,136.5C188.0,139.1 190.8,142.5 193.0,145.5C195.2,148.5 197.2,150.8 200.0,154.5C202.8,158.2 206.4,163.7 209.5,168.0C212.6,172.3 216.3,176.8 218.3,180.5C220.3,184.2 220.4,186.2 221.3,190.0C222.2,193.8 223.1,198.5 223.8,203.0C224.5,207.5 225.0,212.4 225.6,217.0C226.2,221.6 227.0,225.3 227.6,230.5C228.2,235.7 229.0,243.4 229.3,248.0C229.6,252.6 229.6,255.0 229.6,258.0C229.6,261.0 229.6,264.7 229.6,266.0"/>
<path d="M229.7,266.7C228.9,269.0 227.1,276.2 225.1,280.6C223.1,285.0 220.9,287.8 217.6,293.1C214.2,298.5 207.5,308.7 205.0,312.7C202.5,316.7 202.9,316.3 202.5,317.0"/>
<path d="M27.8,256.4C32.6,256.5 44.7,256.7 56.7,256.9C68.6,257.2 86.0,257.9 99.4,258.2C112.8,258.5 124.6,258.6 137.1,259.0C149.7,259.3 163.5,259.8 174.8,260.2C186.1,260.6 197.0,260.5 205.0,261.2C213.0,261.9 218.5,263.4 222.6,264.5C226.7,265.6 228.5,267.4 229.6,268.0C230.8,268.6 228.3,268.2 229.7,268.0C231.0,267.8 235.3,267.6 237.7,266.7C240.1,265.9 240.6,265.1 244.0,263.0C247.3,260.9 254.0,256.3 257.8,254.2C261.6,252.0 264.5,250.3 266.6,249.9C268.7,249.5 269.8,251.4 270.4,251.6"/>
<path d="M270.4,251.6C272.5,252.7 279.6,256.4 283.0,257.9C286.3,259.5 287.6,260.3 290.5,260.9C293.4,261.6 297.2,262.4 300.6,261.7C303.9,261.0 306.4,259.6 310.6,256.7C314.8,253.7 320.7,248.3 325.7,244.1C330.7,239.9 335.7,235.7 340.8,231.5C345.8,227.3 350.8,223.2 355.9,219.0C360.9,214.8 366.3,210.4 370.9,206.4C375.5,202.4 379.3,199.5 383.5,195.1C387.7,190.7 390.7,185.6 396.1,180.0C401.5,174.4 410.1,167.0 416.0,161.6C421.8,156.3 425.5,152.3 431.1,147.8C436.6,143.4 444.5,138.8 449.2,135.0C453.8,131.2 456.9,128.5 459.2,124.9C461.5,121.3 462.3,115.3 463.0,113.4"/>
<path d="M270.4,251.6C271.0,253.1 272.5,257.9 274.2,260.4C275.8,263.0 278.3,264.7 280.4,266.7C282.5,268.7 285.1,270.2 286.7,272.5C288.3,274.8 289.4,275.9 290.0,280.6C290.6,285.2 288.7,297.1 290.5,300.7C292.3,304.2 293.8,301.6 300.6,301.9C307.3,302.3 318.1,302.4 330.7,302.7C343.3,303.0 365.9,303.2 376.0,303.7C386.0,304.2 386.9,304.9 391.1,305.7C395.2,306.4 397.3,306.9 401.1,308.2C404.9,309.5 411.6,312.4 413.7,313.2"/>
</g>
<g font-family="Liberation Sans, Arial, sans-serif">
<rect x="108.0" y="88.8" width="19.5" height="8.8" rx="1.2" fill="#fdfdfc" stroke="#747474" stroke-width="1.25"/><text x="117.8" y="95.5" text-anchor="middle" font-size="6.9" fill="#444" stroke="#444" stroke-width="0.1">1072</text>
<rect x="59.0" y="140.2" width="13" height="8.8" rx="1.2" fill="#fdfdfc" stroke="#747474" stroke-width="1.25"/><text x="65.5" y="146.9" text-anchor="middle" font-size="6.9" fill="#444" stroke="#444" stroke-width="0.1">CC</text>
<rect x="108.5" y="198.5" width="13" height="8.8" rx="1.2" fill="#fdfdfc" stroke="#747474" stroke-width="1.25"/><text x="115.0" y="205.2" text-anchor="middle" font-size="6.9" fill="#444" stroke="#444" stroke-width="0.1">CC</text>
<rect x="96.7" y="283.8" width="15" height="8.8" rx="1.2" fill="#fdfdfc" stroke="#747474" stroke-width="1.25"/><text x="104.2" y="290.6" text-anchor="middle" font-size="6.9" fill="#444" stroke="#444" stroke-width="0.1">MM</text>
<rect x="303.2" y="151.5" width="9.4" height="8.8" rx="1.2" fill="#fdfdfc" stroke="#747474" stroke-width="1.25"/><text x="307.9" y="158.2" text-anchor="middle" font-size="6.9" fill="#444" stroke="#444" stroke-width="0.1">Y</text>
<rect x="177.3" y="121.3" width="12" height="10" rx="5.0" fill="#fdfdfc" stroke="#747474" stroke-width="1.25"/><text x="183.3" y="128.7" text-anchor="middle" font-size="6.9" fill="#444" stroke="#444" stroke-width="0.1">37</text>
<rect x="266.1" y="221.0" width="12" height="10" rx="5.0" fill="#fdfdfc" stroke="#747474" stroke-width="1.25"/><text x="272.1" y="228.4" text-anchor="middle" font-size="6.9" fill="#444" stroke="#444" stroke-width="0.1">37</text>
<rect x="58.2" y="252.0" width="12" height="10" rx="5.0" fill="#fdfdfc" stroke="#747474" stroke-width="1.25"/><text x="64.2" y="259.4" text-anchor="middle" font-size="6.9" fill="#444" stroke="#444" stroke-width="0.1">76</text>
<rect x="179.4" y="255.2" width="12" height="10" rx="5.0" fill="#fdfdfc" stroke="#747474" stroke-width="1.25"/><text x="185.4" y="262.6" text-anchor="middle" font-size="6.9" fill="#444" stroke="#444" stroke-width="0.1">76</text>
<rect x="240.8" y="255.4" width="15" height="10" rx="5.0" fill="#fdfdfc" stroke="#747474" stroke-width="1.25"/><text x="248.3" y="262.8" text-anchor="middle" font-size="6.9" fill="#444" stroke="#444" stroke-width="0.1">112</text>
<rect x="278.0" y="268.0" width="15" height="10" rx="5.0" fill="#fdfdfc" stroke="#747474" stroke-width="1.25"/><text x="285.5" y="275.4" text-anchor="middle" font-size="6.9" fill="#444" stroke="#444" stroke-width="0.1">112</text>
<rect x="281.6" y="254.7" width="15.2" height="10" rx="5.0" fill="#fdfdfc" stroke="#747474" stroke-width="1.25"/><text x="289.2" y="262.1" text-anchor="middle" font-size="6.9" fill="#444" stroke="#444" stroke-width="0.1">248</text>
<rect x="378.9" y="184.6" width="15.2" height="10" rx="5.0" fill="#fdfdfc" stroke="#747474" stroke-width="1.25"/><text x="386.5" y="192.0" text-anchor="middle" font-size="6.9" fill="#444" stroke="#444" stroke-width="0.1">248</text>
</g>
<text x="183.8" y="59.5" text-anchor="middle" font-size="10" textLength="42.5" lengthAdjust="spacingAndGlyphs" fill="#f3f2ef" stroke="#f3f2ef" stroke-width="2" stroke-linejoin="round" aria-hidden="true">Butterfield</text><text x="183.8" y="59.5" text-anchor="middle" font-size="10" textLength="42.5" lengthAdjust="spacingAndGlyphs" fill="#555" stroke="#555" stroke-width="0.22">Butterfield</text>
<text x="114.2" y="261" text-anchor="middle" font-size="9.8" textLength="25.4" lengthAdjust="spacingAndGlyphs" fill="#f3f2ef" stroke="#f3f2ef" stroke-width="2" stroke-linejoin="round" aria-hidden="true">Exeter</text><text x="114.2" y="261" text-anchor="middle" font-size="9.8" textLength="25.4" lengthAdjust="spacingAndGlyphs" fill="#555" stroke="#555" stroke-width="0.22">Exeter</text>
<text x="264.6" y="250.2" text-anchor="middle" font-size="10.7" textLength="37" lengthAdjust="spacingAndGlyphs" fill="#f3f2ef" stroke="#f3f2ef" stroke-width="2" stroke-linejoin="round" aria-hidden="true">Cassville</text><text x="264.6" y="250.2" text-anchor="middle" font-size="10.7" textLength="37" lengthAdjust="spacingAndGlyphs" fill="#555" stroke="#555" stroke-width="0.22">Cassville</text>
<text x="164.7" y="237" text-anchor="middle" font-size="10.4" textLength="93.2" lengthAdjust="spacingAndGlyphs" fill="#f3f2ef" stroke="#f3f2ef" stroke-width="2" stroke-linejoin="round" aria-hidden="true">Walmart Supercenter</text><text x="164.7" y="237" text-anchor="middle" font-size="10.4" textLength="93.2" lengthAdjust="spacingAndGlyphs" fill="#3f83f2" stroke="#3f83f2" stroke-width="0.18">Walmart Supercenter</text>
<path d="M220.2,244 C218.8,240.8 213.5,237.7 213.5,231.6 a6.7,6.7 0 1 1 13.4,0 C226.9,237.7 221.6,240.8 220.2,244Z" fill="#4a8df6"/>
<rect x="216.6" y="230.1" width="7.3" height="5" rx="0.7" fill="#fff"/>
<path d="M218.5,230.3 v-0.6 a1.75,1.75 0 0 1 3.5,0 v0.6" fill="none" stroke="#fff" stroke-width="0.85"/>
<path d="M218.7,232.3 q1.55,1.5 3.1,0" fill="none" stroke="#4a8df6" stroke-width="0.7" stroke-linecap="round"/>
<rect x="283" y="304.4" width="180" height="9" fill="#f5f5f5" fill-opacity="0.75"/>
<g font-size="7.1" fill="#333">
<text x="285.3" y="310.9">Map data ©2021</text>
<text x="347.9" y="310.9">Terms of Use</text>
<text x="397.8" y="310.9">Report a map error</text>
</g>
<text x="32.4" y="308" font-size="15.4" textLength="44.2" lengthAdjust="spacingAndGlyphs" fill="#fff" stroke="#fff" stroke-width="2.4" stroke-opacity="0.85" stroke-linejoin="round" aria-hidden="true">Google</text>
<text x="32.4" y="308" font-size="15.4" textLength="44.2" lengthAdjust="spacingAndGlyphs" stroke-width="0.55" stroke-linejoin="round"><tspan fill="#4285f4" stroke="#4285f4">G</tspan><tspan fill="#ea4335" stroke="#ea4335">o</tspan><tspan fill="#fbbc05" stroke="#fbbc05">o</tspan><tspan fill="#4285f4" stroke="#4285f4">g</tspan><tspan fill="#34a853" stroke="#34a853">l</tspan><tspan fill="#ea4335" stroke="#ea4335">e</tspan></text>
<rect x="431.8" y="288.6" width="30.4" height="10.2" fill="#ffffff" fill-opacity="0.72"/>
<text x="446.3" y="296.7" text-anchor="middle" font-size="8.4" fill="#1a7fb0">Leaflet</text>
<path fill-rule="evenodd" d="M244.6,181.4 C242.2,176.1 233.6,170.8 233.6,162.9 a11,11 0 1 1 22,0 C255.6,170.8 247,176.1 244.6,181.4Z M244.6,158.6 a4.6,4.6 0 1 0 0.01,0Z" fill="#ff9708"/>
<rect x="35.2" y="57.0" width="23.5" height="45.3" rx="2.2" fill="#fff" stroke="#b9b9b9" stroke-width="1.1"/>
<path d="M35.8,78.9h22.3" stroke="#cfcfcf" stroke-width="0.9"/>
<path d="M42.6,70.1h8.8M47,65.7v8.8M42.8,91.6h8.4" stroke="#111" stroke-width="1.9" fill="none"/>
</g>
</svg>
<span class="grip"></span>
</section>
<section class="card" id="wtemp" style="left:470.1px;top:21.5px;width:126.50px;height:163.00px">
<h3 class="title" style="left:11.15px;transform:scaleX(0.9172)">Water Tempera...</h3>
<span class="kebab" style="left:111.30px;top:8.50px"><i></i><i></i><i></i></span>
<svg width="126.50" height="163.00" viewBox="470.1 21.5 126.50 163.00">
<g>
<path d="M528.3,57 a6,6 0 0 1 12,0 V92.6 a9.1,9.1 0 1 1 -12,0 Z" fill="#fff" stroke="#b6b6b6" stroke-width="1.25"/>
<path d="M540.6,63.8h2.6M540.6,71.3h2.6M540.6,79.3h2.6M540.6,87.4h2.6" stroke="#b6b6b6" stroke-width="1" fill="none"/>
<circle cx="534.3" cy="99.6" r="6.6" fill="#000"/>
<rect x="531.8" y="84.3" width="5" height="12" rx="2.4" fill="#000"/>
<text x="534.1" y="136.6" text-anchor="middle" font-weight="700" font-size="23.7" textLength="56.6" lengthAdjust="spacingAndGlyphs" fill="#000">16.06</text>
<text x="533.1" y="154.4" text-anchor="middle" font-size="10.05" textLength="118.8" lengthAdjust="spacingAndGlyphs" fill="#7a7a7a">Last Updated: 27 Apr 2021</text>
<text x="533.8" y="168.9" text-anchor="middle" font-size="10.05" fill="#7a7a7a">13:25</text>
</g>
</svg>
<span class="grip"></span>
</section>
<section class="card" id="ph" style="left:603.4px;top:21.5px;width:170.40px;height:163.00px">
<h3 class="title" style="left:10.35px;transform:scaleX(0.8797)">pH Level</h3>
<span class="kebab" style="left:155.60px;top:8.50px"><i></i><i></i><i></i></span>
<svg width="170.40" height="163.00" viewBox="603.4 21.5 170.40 163.00">
<path d="M616.75,150.00 A72,72 0 0 1 692.30,78.09 L690.48,115.04 A35,35 0 0 0 653.75,150.00 Z" fill="#4ca64c"/>
<path d="M692.74,78.11 A72,72 0 0 1 760.75,150.00 L723.75,150.00 A35,35 0 0 0 690.69,115.05 Z" fill="#cccccc"/>
<text x="688.75" y="149.8" text-anchor="middle" font-weight="700" font-size="15.5" letter-spacing="-0.2" fill="#3f9c3f">7.22</text>
<text x="635" y="158.6" text-anchor="middle" font-weight="700" font-size="6.9" fill="#333">0</text>
<text x="742.5" y="158.6" text-anchor="middle" font-weight="700" font-size="6.9" fill="#333">14</text>
</svg>
<span class="grip"></span>
</section>
<section class="card" id="orp" style="left:781.5px;top:21.5px;width:170.10px;height:163.00px">
<h3 class="title" style="left:10.44px;transform:scaleX(0.9052)">Oxidation Reduction Pot...</h3>
<span class="kebab" style="left:155.30px;top:8.50px"><i></i><i></i><i></i></span>
<svg width="170.10" height="163.00" viewBox="781.5 21.5 170.10 163.00">
<text x="866.5" y="79.1" text-anchor="middle" font-size="10.8" textLength="44.3" lengthAdjust="spacingAndGlyphs" fill="#6a6a6a">Last value</text>
<text x="866.5" y="128" text-anchor="middle" font-weight="700" font-size="44.5" letter-spacing="-0.7" fill="#1ba6ff">242.16</text>
<text x="866.5" y="152.2" text-anchor="middle" font-size="10.1" fill="#777">Last Updated: 27 Apr 2021 13:25</text>
</svg>
<span class="grip"></span>
</section>
<section class="card" id="dosat" style="left:470.1px;top:192px;width:170.60px;height:163.50px">
<h3 class="title" style="left:11.15px;transform:scaleX(0.8849)">Dissolved Oxygen (Satur...</h3>
<span class="kebab" style="left:155.50px;top:9.00px"><i></i><i></i><i></i></span>
<svg width="170.60" height="163.50" viewBox="470.1 192 170.60 163.50">
<defs><clipPath id="liq"><rect x="510" y="242.5" width="92" height="80"/></clipPath></defs>
<circle cx="555.95" cy="273.3" r="43.1" fill="#fff" stroke="#c2c2c2" stroke-width="1.7"/>
<circle cx="555.95" cy="273.3" r="41" fill="#2fbe6a" clip-path="url(#liq)"/>
<text x="555.75" y="280.4" text-anchor="middle" font-size="13.2" fill="#fff">87.95</text>
</svg>
<span class="grip"></span>
</section>
<section class="card" id="turb" style="left:648.7px;top:192px;width:125.80px;height:163.50px">
<h3 class="title" style="left:10.05px;transform:scaleX(0.8962)">Turbidity (NTU)</h3>
<span class="kebab" style="left:110.70px;top:9.00px"><i></i><i></i><i></i></span>
<svg width="125.80" height="163.50" viewBox="648.7 192 125.80 163.50">
<path d="M666.90,310.20 A44.6,44.6 0 0 1 727.55,268.59 L717.04,295.83 A15.4,15.4 0 0 0 696.10,310.20 Z" fill="#8a5800"/>
<path d="M727.91,268.73 A44.6,44.6 0 0 1 756.10,310.20 L726.90,310.20 A15.4,15.4 0 0 0 717.17,295.88 Z" fill="#cccccc"/>
<text x="711.5" y="310.1" text-anchor="middle" font-weight="700" font-size="7.1" fill="#8a5800">2,468.78</text>
<text x="711.5" y="318.3" text-anchor="middle" font-size="8" fill="#b08a4a">NTU</text>
<text x="681.2" y="319" text-anchor="middle" font-weight="700" font-size="6.3" fill="#444">0</text>
<text x="741.8" y="319" text-anchor="middle" font-weight="700" font-size="6.3" fill="#444">4000</text>
</svg>
<span class="grip"></span>
</section>
<section class="card" id="tds" style="left:781.5px;top:192px;width:170.10px;height:163.50px">
<h3 class="title" style="left:10.44px;transform:scaleX(0.8882)">Total Dissolved Solids (p...</h3>
<span class="kebab" style="left:155.30px;top:9.00px"><i></i><i></i><i></i></span>
<svg width="170.10" height="163.50" viewBox="781.5 192 170.10 163.50">
<path d="M795.72,308.96 A72,72 0 0 1 938.75,320.75 L901.25,320.75 A34.5,34.5 0 0 0 832.72,315.10 Z" fill="#cccccc"/>
<path d="M794.75,320.75 A72,72 0 0 1 795.60,309.70 L832.66,315.46 A34.5,34.5 0 0 0 832.25,320.75 Z" fill="#000"/>
<text x="866.6" y="321.4" text-anchor="middle" font-weight="700" font-size="15.4" textLength="38.2" lengthAdjust="spacingAndGlyphs" fill="#000">98.08</text>
<text x="813" y="330.2" text-anchor="middle" font-weight="700" font-size="6.3" fill="#333">0</text>
<text x="920" y="330.2" text-anchor="middle" font-weight="700" font-size="6.3" fill="#333">2000</text>
</svg>
<span class="grip"></span>
</section>
<section class="card" id="doraw" style="left:26.0px;top:362px;width:481.30px;height:164.30px">
<h3 class="title" style="left:10.30px;transform:scaleX(0.8749)">Dissolved Oxygen (Raw Samples)</h3>
<span class="kebab" style="left:466.80px;top:9.00px"><i></i><i></i><i></i></span>
<svg width="481.30" height="164.30" viewBox="26.0 362 481.30 164.30">
<path d="M90.5,401.75H472.2" stroke="#efefef" stroke-width="0.8"/>
<path d="M90.5,409.62H472.2" stroke="#efefef" stroke-width="0.8"/>
<path d="M90.5,417.5H472.2" stroke="#efefef" stroke-width="0.8"/>
<path d="M90.5,425.38H472.2" stroke="#efefef" stroke-width="0.8"/>
<path d="M90.5,433.25H472.2" stroke="#efefef" stroke-width="0.8"/>
<path d="M90.5,441.12H472.2" stroke="#efefef" stroke-width="0.8"/>
<path d="M90.5,449.0H472.2" stroke="#efefef" stroke-width="0.8"/>
<path d="M116.25,398.0V450.3" stroke="#e9e9e9" stroke-width="0.8"/>
<path d="M194.5,398.0V450.3" stroke="#e9e9e9" stroke-width="0.8"/>
<path d="M272.5,398.0V450.3" stroke="#e9e9e9" stroke-width="0.8"/>
<path d="M350.4,398.0V450.3" stroke="#e9e9e9" stroke-width="0.8"/>
<path d="M428.4,398.0V450.3" stroke="#e9e9e9" stroke-width="0.8"/>
<path d="M472.2,398.0V450.3" stroke="#ececec" stroke-width="0.8"/>
<path d="M90.5,398.0V450.3H472.2" stroke="#c9c9c9" stroke-width="0.9" fill="none"/>
<path d="M90.5,398.0H472.2" stroke="#ececec" stroke-width="0.8"/>
<path d="M88.3,401.75h2.2M88.3,409.62h2.2M88.3,417.5h2.2M88.3,425.38h2.2M88.3,433.25h2.2M88.3,441.12h2.2M88.3,449.0h2.2" stroke="#c9c9c9" stroke-width="0.8"/>
<g font-size="7.9" fill="#3a3a3a" stroke="#3a3a3a" stroke-width="0.12">
<text x="85.6" y="404.1" text-anchor="end">450.00</text>
<text x="85.6" y="411.9" text-anchor="end">400.00</text>
<text x="85.6" y="419.8" text-anchor="end">350.00</text>
<text x="85.6" y="427.7" text-anchor="end">300.00</text>
<text x="85.6" y="435.6" text-anchor="end">250.00</text>
<text x="85.6" y="443.4" text-anchor="end">200.00</text>
<text x="85.6" y="451.3" text-anchor="end">150.00</text>
<text x="116.25" y="462.4" text-anchor="middle">Apr 23 2021</text><text x="116.25" y="469.9" text-anchor="middle">00:00</text>
<text x="194.5" y="462.4" text-anchor="middle">Apr 24 2021</text><text x="194.5" y="469.9" text-anchor="middle">00:00</text>
<text x="272.5" y="462.4" text-anchor="middle">Apr 25 2021</text><text x="272.5" y="469.9" text-anchor="middle">00:00</text>
<text x="350.4" y="462.4" text-anchor="middle">Apr 26 2021</text><text x="350.4" y="469.9" text-anchor="middle">00:00</text>
<text x="428.4" y="462.4" text-anchor="middle">Apr 27 2021</text><text x="428.4" y="469.9" text-anchor="middle">00:00</text>
<text x="472.5" y="462.4" text-anchor="middle">Apr 27 2021</text><text x="472.5" y="469.9" text-anchor="middle">13:25</text>
</g>
<path d="M90.5,405.0 L93.0,405.5 L93.5,409.0 L97.0,409.5 L98.0,416.0 L100.5,421.0 L102.0,427.0 L104.0,435.0 L106.0,437.0 L108.0,439.5 L112.0,442.5 L116.0,444.5 L120.0,446.0 L128.0,447.5 L135.0,448.3 L141.0,448.2 L142.5,445.0 L144.5,445.0 L145.0,440.0 L147.5,439.5 L148.0,434.0 L150.5,433.5 L151.0,428.0 L153.5,427.5 L154.0,422.0 L157.0,421.5 L158.0,418.0 L160.5,417.5 L161.0,413.0 L163.5,412.5 L164.0,409.5 L171.0,409.5 L172.0,417.0 L174.5,418.0 L175.0,424.0 L177.5,425.0 L178.0,431.0 L180.5,432.0 L181.0,437.0 L183.0,438.5 L185.0,441.0 L190.0,444.2 L196.0,446.0 L202.0,448.0 L206.0,449.2 L210.0,448.7 L216.0,448.7 L220.0,447.2 L223.0,446.0 L224.0,444.0 L226.5,443.5 L227.0,440.0 L229.5,439.5 L230.0,436.0 L233.0,435.0 L234.0,431.0 L237.0,430.0 L238.0,429.0 L240.5,428.5 L241.0,424.0 L243.5,423.5 L244.0,421.0 L247.0,419.0 L248.0,415.5 L251.0,415.0 L252.0,417.0 L254.5,417.5 L255.0,421.0 L256.5,422.0 L257.5,427.0 L259.5,428.0 L260.0,433.0 L262.0,434.0 L262.5,438.0 L265.0,439.0 L267.0,442.0 L271.0,444.0 L275.0,446.0 L280.0,447.2 L284.4,448.0 L290.0,448.6 L296.0,448.4 L298.4,446.0 L300.5,445.5 L301.0,440.0 L303.0,439.5 L303.5,434.0 L306.0,433.0 L306.3,428.0 L308.5,427.0 L309.4,421.0 L311.5,420.0 L312.0,413.0 L314.5,408.0 L317.2,403.0 L320.0,400.0 L323.4,398.5 L326.0,400.5 L328.0,404.0 L330.5,411.0 L332.8,420.0 L335.0,428.0 L337.5,434.0 L339.5,438.0 L342.2,440.8 L346.0,443.0 L350.0,444.5 L355.0,446.0 L359.4,447.0 L364.0,448.3 L367.2,449.2 L371.9,449.5 L373.5,447.0 L375.0,444.0 L378.0,436.0 L381.2,428.0 L384.5,420.0 L387.5,412.0 L390.0,407.0 L392.2,403.0 L394.5,401.5 L396.9,400.5 L400.0,400.5 L403.1,399.5 L405.0,402.0 L406.2,404.0 L408.5,411.0 L411.0,420.0 L413.5,428.0 L415.6,435.0 L418.0,439.5 L420.3,442.2 L424.0,444.5 L428.0,446.0 L432.0,447.0 L437.5,448.2 L442.0,449.0 L447.0,449.7 L450.5,449.5 L452.0,446.0 L454.7,438.0 L457.0,432.0 L459.4,426.0 L462.5,420.0 L465.6,415.0 L469.0,411.5 L472.0,409.5" fill="none" stroke="#ffec1f" stroke-width="1.75" stroke-linejoin="round" stroke-linecap="round"/>
<rect x="66.9" y="488.3" width="403.0" height="20.4" fill="#dde3ed"/>
<path d="M66.9,508.7 L66.9,494.1 L71.1,494.1 L75.8,498.0 L81.6,502.8 L89.8,504.2 L106.2,505.0 L112.1,503.0 L122.6,498.4 L130.9,495.5 L138.6,495.0 L143.7,498.0 L153.1,502.8 L162.5,504.0 L181.2,505.2 L195.3,505.0 L202.3,502.5 L209.4,500.2 L212.9,500.2 L218.7,498.0 L224.6,496.2 L230.5,497.2 L239.8,502.3 L249.2,504.0 L275.0,505.2 L279.4,504.7 L288.7,500.0 L298.1,495.0 L305.2,492.5 L309.8,492.7 L316.9,497.0 L325.0,502.3 L335.6,504.0 L361.4,505.2 L368.4,502.3 L377.8,496.5 L384.8,493.0 L393.0,492.5 L398.9,494.5 L405.9,500.0 L413.0,503.5 L424.7,504.5 L445.8,505.4 L455.1,500.5 L464.5,496.5 L469.9,495.0 L469.9,508.7 Z" fill="#c1c5d1"/>
<path d="M66.9,488V509" stroke="#9db1d4" stroke-width="1.1"/>
<rect x="64.5" y="494" width="4.8" height="9.4" rx="0.8" fill="#a3b6d6"/>
<path d="M65.5,497.2h2.8M65.5,500.2h2.8" stroke="#eef2f8" stroke-width="1"/>
<path d="M469.9,488V509" stroke="#9db1d4" stroke-width="1.1"/>
<rect x="467.5" y="494" width="4.8" height="9.4" rx="0.8" fill="#a3b6d6"/>
<path d="M468.5,497.2h2.8M468.5,500.2h2.8" stroke="#eef2f8" stroke-width="1"/>
</svg>
<span class="grip"></span>
</section>
<section class="card" id="phraw" style="left:515.2px;top:362px;width:482.20px;height:164.30px">
<h3 class="title" style="left:10.55px;transform:scaleX(0.8677)">pH (Raw Samples)</h3>
<span class="kebab" style="left:466.60px;top:9.00px"><i></i><i></i><i></i></span>
<svg width="482.20" height="164.30" viewBox="515.2 362 482.20 164.30">
<path d="M587.5,402.0H961.2" stroke="#efefef" stroke-width="0.8"/>
<path d="M587.5,410.8H961.2" stroke="#efefef" stroke-width="0.8"/>
<path d="M587.5,419.6H961.2" stroke="#efefef" stroke-width="0.8"/>
<path d="M587.5,428.4H961.2" stroke="#efefef" stroke-width="0.8"/>
<path d="M587.5,437.2H961.2" stroke="#efefef" stroke-width="0.8"/>
<path d="M587.5,446.0H961.2" stroke="#efefef" stroke-width="0.8"/>
<path d="M611.75,398.0V450.3" stroke="#e9e9e9" stroke-width="0.8"/>
<path d="M688,398.0V450.3" stroke="#e9e9e9" stroke-width="0.8"/>
<path d="M765,398.0V450.3" stroke="#e9e9e9" stroke-width="0.8"/>
<path d="M841.2,398.0V450.3" stroke="#e9e9e9" stroke-width="0.8"/>
<path d="M918.3,398.0V450.3" stroke="#e9e9e9" stroke-width="0.8"/>
<path d="M961.2,398.0V450.3" stroke="#ececec" stroke-width="0.8"/>
<path d="M587.5,398.0V450.3H961.2" stroke="#c9c9c9" stroke-width="0.9" fill="none"/>
<path d="M587.5,398.0H961.2" stroke="#ececec" stroke-width="0.8"/>
<path d="M585.3,402.0h2.2M585.3,410.8h2.2M585.3,419.6h2.2M585.3,428.4h2.2M585.3,437.2h2.2M585.3,446.0h2.2" stroke="#c9c9c9" stroke-width="0.8"/>
<g font-size="7.9" fill="#3a3a3a" stroke="#3a3a3a" stroke-width="0.12">
<text x="581.6" y="404.8" text-anchor="end">2,100.00</text>
<text x="581.6" y="413.6" text-anchor="end">2,000.00</text>
<text x="581.6" y="422.4" text-anchor="end">1,900.00</text>
<text x="581.6" y="431.2" text-anchor="end">1,800.00</text>
<text x="581.6" y="440.0" text-anchor="end">1,700.00</text>
<text x="581.6" y="448.8" text-anchor="end">1,600.00</text>
<text x="611.75" y="462.4" text-anchor="middle">Apr 23 2021</text><text x="611.75" y="469.9" text-anchor="middle">00:00</text>
<text x="688" y="462.4" text-anchor="middle">Apr 24 2021</text><text x="688" y="469.9" text-anchor="middle">00:00</text>
<text x="765" y="462.4" text-anchor="middle">Apr 25 2021</text><text x="765" y="469.9" text-anchor="middle">00:00</text>
<text x="841.2" y="462.4" text-anchor="middle">Apr 26 2021</text><text x="841.2" y="469.9" text-anchor="middle">00:00</text>
<text x="918.3" y="462.4" text-anchor="middle">Apr 27 2021</text><text x="918.3" y="469.9" text-anchor="middle">00:00</text>
<text x="961.5" y="462.4" text-anchor="middle">Apr 27 2021</text><text x="961.5" y="469.9" text-anchor="middle">13:25</text>
</g>
<path d="M587.5,435.5 L588.3,439.0 L589.5,439.3 L590.0,441.0 L591.0,442.5 L592.4,442.4 L593.0,441.5 L594.0,437.0 L596.1,436.6 L597.0,434.0 L599.1,433.8 L600.0,432.6 L603.0,433.0 L605.1,433.4 L606.0,436.0 L607.4,436.2 L608.0,437.5 L610.8,437.7 L612.0,439.0 L614.1,439.2 L615.0,440.5 L617.1,440.7 L618.0,441.6 L622.0,441.0 L626.0,441.2 L630.0,441.0 L632.8,440.9 L634.0,440.0 L636.0,439.5 L638.8,439.7 L640.0,441.0 L642.8,441.1 L644.0,442.0 L646.1,442.2 L647.0,443.5 L649.1,443.9 L650.0,446.5 L652.8,446.7 L654.0,448.0 L656.8,448.1 L658.0,449.0 L662.0,449.0 L664.1,448.7 L665.0,447.0 L667.1,446.8 L668.0,445.5 L670.8,445.4 L672.0,444.5 L672.4,425.0 L675.0,424.5 L676.0,421.0 L677.4,420.9 L678.0,420.0 L679.4,420.3 L680.0,422.0 L682.1,421.7 L683.0,420.0 L685.1,419.6 L686.0,417.5 L687.4,417.2 L688.0,415.5 L690.1,415.3 L691.0,414.0 L692.4,413.6 L693.0,411.0 L695.1,411.1 L696.0,412.0 L697.4,411.6 L698.0,409.0 L699.4,409.2 L700.0,410.5 L701.4,410.1 L702.0,407.5 L704.0,408.0 L705.4,407.7 L706.0,406.0 L707.4,406.2 L708.0,407.5 L709.4,407.7 L710.0,409.0 L711.4,409.1 L712.0,410.0 L713.4,410.3 L714.0,412.0 L715.4,412.1 L716.0,413.0 L717.4,413.3 L718.0,415.0 L720.1,415.1 L721.0,416.0 L723.1,416.4 L724.0,418.5 L726.1,418.9 L727.0,421.0 L729.1,420.7 L730.0,419.0 L731.0,418.4 L731.5,415.0 L732.5,415.3 L733.0,417.0 L734.0,417.1 L734.5,418.0 L735.0,428.0 L736.4,428.4 L737.0,431.0 L739.0,431.5 L740.4,432.9 L741.0,441.0 L742.4,440.9 L743.0,440.0 L744.0,431.0 L747.5,431.0 L748.0,416.0 L749.8,415.7 L750.5,414.0 L751.9,413.1 L752.5,408.0 L754.2,407.5 L755.0,404.5 L756.2,404.1 L756.7,402.0 L757.6,401.6 L758.0,399.5 L760.8,399.0 L761.5,404.0 L763.2,404.3 L764.0,406.0 L766.7,406.6 L767.8,410.0 L770.7,410.4 L772.0,412.5 L774.8,412.9 L776.0,415.0 L778.8,415.1 L780.0,416.0 L783.1,416.2 L784.4,417.5 L786.9,417.7 L788.0,419.0 L790.4,419.3 L791.4,421.0 L792.9,421.8 L793.5,426.0 L794.9,426.6 L795.5,430.0 L797.2,430.3 L798.0,432.0 L800.1,432.3 L801.0,434.0 L802.8,434.4 L803.5,436.5 L804.7,436.7 L805.2,438.0 L806.7,439.1 L807.4,445.0 L808.7,443.8 L809.3,437.0 L811.7,438.1 L812.7,444.0 L815.2,443.1 L816.3,438.0 L819.2,437.4 L820.5,434.0 L821.5,433.1 L822.0,428.0 L822.8,427.2 L823.2,423.0 L825.2,422.2 L826.0,418.0 L828.0,417.4 L828.8,414.0 L830.3,413.6 L831.0,411.5 L832.4,411.3 L833.0,410.0 L835.5,409.4 L836.5,406.0 L838.2,406.4 L839.0,409.0 L840.5,409.3 L841.2,411.0 L843.2,411.4 L844.0,413.5 L846.0,413.7 L846.8,415.0 L849.0,415.2 L850.0,416.5 L852.6,416.7 L853.7,418.0 L856.0,418.3 L857.0,420.0 L859.5,420.4 L860.6,423.0 L863.0,423.7 L864.0,427.5 L866.5,428.2 L867.6,432.0 L870.7,432.6 L872.0,436.0 L874.7,436.4 L875.9,439.0 L878.1,439.4 L879.0,442.0 L881.7,442.4 L882.8,445.0 L885.7,445.4 L887.0,447.5 L892.0,447.5 L893.4,447.1 L894.0,444.5 L895.9,444.7 L896.7,446.0 L898.7,445.1 L899.5,440.0 L900.9,439.5 L901.5,436.5 L903.0,436.1 L903.6,434.0 L906.5,433.8 L907.8,432.5 L909.7,432.6 L910.5,433.5 L912.5,433.6 L913.3,434.5 L916.2,434.7 L917.5,436.0 L919.5,435.6 L920.3,433.5 L922.2,433.9 L923.0,436.0 L924.8,436.3 L925.5,438.0 L927.7,438.2 L928.6,439.5 L931.0,439.5 L933.1,439.7 L934.0,441.0 L938.0,441.5 L942.4,442.0 L944.2,442.3 L945.0,444.0 L947.1,444.1 L948.0,445.0 L950.5,445.1 L951.5,446.0 L954.0,446.1 L955.0,447.0 L958.0,447.5 L961.0,448.0" fill="none" stroke="#ff2b0a" stroke-width="1.5" stroke-linejoin="round" stroke-linecap="round"/>
<rect x="556" y="488.3" width="403.2" height="20.4" fill="#dde3ed"/>
<path d="M556.0,508.7 L556.0,502.8 L565.8,500.7 L575.0,502.6 L596.0,502.8 L617.0,505.0 L633.7,504.5 L636.0,498.8 L652.5,496.7 L672.4,494.6 L685.0,496.0 L699.0,498.1 L703.0,497.2 L708.7,499.5 L713.4,502.3 L715.3,499.5 L718.0,500.5 L722.8,495.8 L732.0,492.5 L741.5,494.8 L765.0,497.0 L769.4,498.5 L776.4,501.0 L785.8,502.0 L789.3,503.3 L791.6,502.2 L794.7,503.5 L802.0,501.0 L806.9,497.5 L821.0,494.2 L832.6,496.5 L849.0,499.0 L860.8,502.0 L877.0,504.7 L886.5,504.2 L893.6,501.5 L900.6,501.0 L912.3,501.7 L928.7,503.0 L959.2,504.8 L959.2,508.7 Z" fill="#c1c5d1"/>
<path d="M556,488V509" stroke="#9db1d4" stroke-width="1.1"/>
<rect x="553.6" y="494" width="4.8" height="9.4" rx="0.8" fill="#a3b6d6"/>
<path d="M554.6,497.2h2.8M554.6,500.2h2.8" stroke="#eef2f8" stroke-width="1"/>
<path d="M959.2,488V509" stroke="#9db1d4" stroke-width="1.1"/>
<rect x="956.8000000000001" y="494" width="4.8" height="9.4" rx="0.8" fill="#a3b6d6"/>
<path d="M957.8000000000001,497.2h2.8M957.8000000000001,500.2h2.8" stroke="#eef2f8" stroke-width="1"/>
</svg>
<span class="grip"></span>
</section>

</body>
</html>
